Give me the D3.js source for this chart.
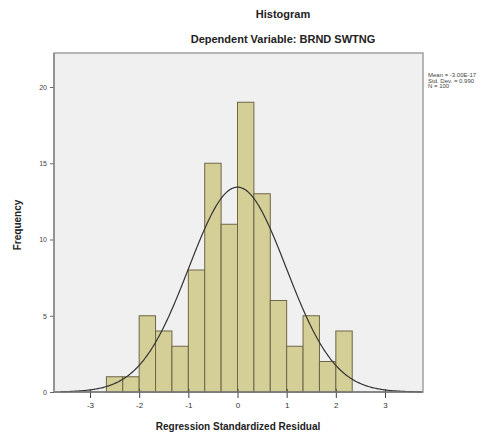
<!DOCTYPE html>
<html><head><meta charset="utf-8">
<script src="https://cdn.jsdelivr.net/npm/d3@7"></script>
<style>body{margin:0;background:#fff}svg{display:block;font-family:Arial,"Liberation Sans",sans-serif}</style>
</head><body>
<svg id="c" width="502" height="437"></svg>
<script>
const binStart = [-8/3,-7/3,-2,-5/3,-4/3,-1,-2/3,-1/3,0,1/3,2/3,1,4/3,5/3,2];
const counts = [1,1,5,4,3,8,15,11,19,13,6,3,5,2,4];
const binWidth = 1/3;
const xTicks = [-3,-2,-1,0,1,2,3];
const yTicks = [0,5,10,15,20];
const mean = 0, sd = 0.990, N = 100;
const statLines = ["Mean = -3.00E-17","Std. Dev. = 0.990","N = 100"];

const svg = d3.select("#c");
const L=54, R=423, T=53, B=392;
const x = d3.scaleLinear().domain([-3,3]).range([90,385]);
const y = d3.scaleLinear().domain([0,20]).range([B,87]);

svg.append("rect").attr("x",L).attr("y",T).attr("width",R-L).attr("height",B-T)
  .attr("fill","#f0f0f0").attr("stroke","#a0a0a0").attr("stroke-width",1.5);

svg.append("g").selectAll("rect").data(counts).join("rect")
  .attr("x",(d,i)=>x(binStart[i])).attr("width",(d,i)=>x(binStart[i]+binWidth)-x(binStart[i]))
  .attr("y",d=>y(d)).attr("height",d=>B-y(d))
  .attr("fill","#d4cf96").attr("stroke","#6e6646").attr("stroke-width",1);

// normal curve
const pts = d3.range(-3.6,3.75,0.02).map(v=>[v, N*binWidth/(sd*Math.sqrt(2*Math.PI))*Math.exp(-0.5*((v-mean)/sd)**2)]);
svg.append("path").datum(pts).attr("fill","none").attr("stroke","#333").attr("stroke-width",1.2)
  .attr("d",d3.line().x(d=>x(d[0])).y(d=>y(d[1])));

// axes
const xa = svg.append("g").attr("transform",`translate(0,${B})`)
  .call(d3.axisBottom(x).tickValues(xTicks).tickSize(6).tickFormat(d=>String(d)));
xa.select(".domain").remove();
xa.selectAll("line").attr("stroke","#444").attr("y1",-3).attr("y2",6);
xa.selectAll("text").attr("font-size",8).attr("fill","#333").attr("dy","0.9em");

const ya = svg.append("g").attr("transform",`translate(${L},0)`)
  .call(d3.axisLeft(y).tickValues(yTicks).tickSize(4).tickFormat(d=>String(d)));
ya.select(".domain").remove();
ya.selectAll("line").attr("stroke","#666");
ya.selectAll("text").attr("font-size",7).attr("fill","#444");

svg.append("line").attr("x1",L).attr("x2",R).attr("y1",B).attr("y2",B).attr("stroke","#777").attr("stroke-width",1.5);
svg.append("line").attr("x1",L).attr("x2",L).attr("y1",T).attr("y2",B).attr("stroke","#888").attr("stroke-width",1.5);

// titles
svg.append("text").attr("x",283).attr("y",18).attr("text-anchor","middle").attr("font-size",11).attr("font-weight","bold").attr("fill","#222").text("Histogram");
svg.append("text").attr("x",283).attr("y",43).attr("text-anchor","middle").attr("font-size",11).attr("font-weight","bold").attr("fill","#222").text("Dependent Variable: BRND SWTNG");
svg.append("text").attr("x",238).attr("y",430).attr("text-anchor","middle").attr("font-size",10).attr("font-weight","bold").attr("fill","#222").text("Regression Standardized Residual");
svg.append("text").attr("transform","translate(21,225) rotate(-90)").attr("text-anchor","middle").attr("font-size",10).attr("font-weight","bold").attr("fill","#222").text("Frequency");

svg.append("g").selectAll("text").data(statLines).join("text")
  .attr("x",428).attr("y",(d,i)=>77+i*5.5).attr("font-size",6).attr("fill","#444").text(d=>d);
</script>
</body></html>
